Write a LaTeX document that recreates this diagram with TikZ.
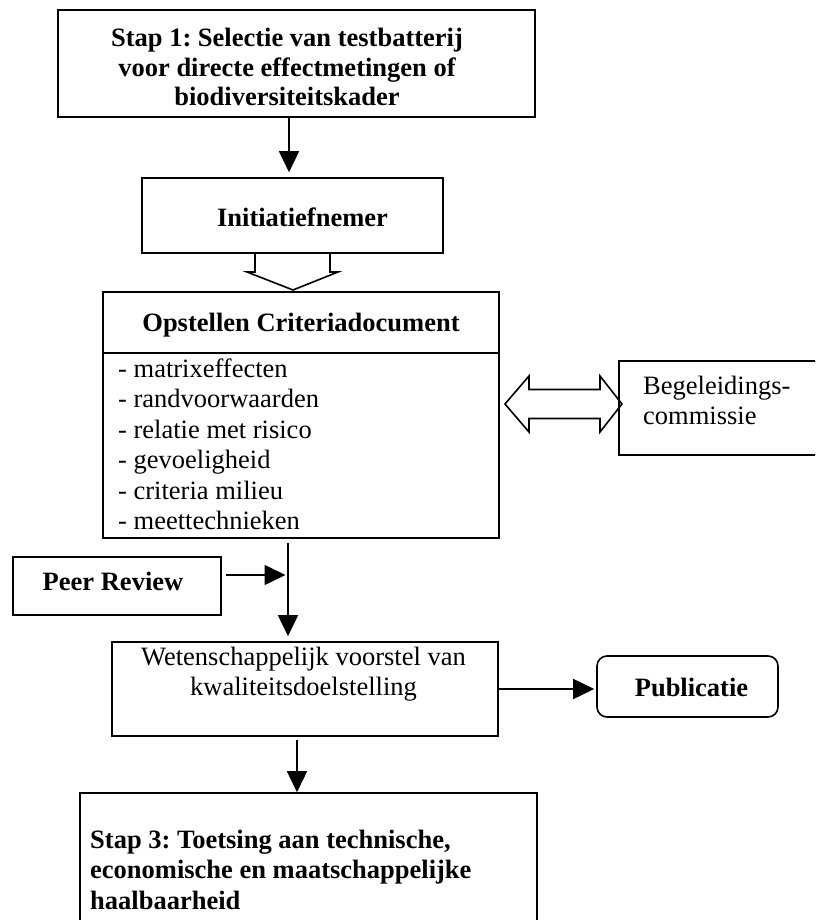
\documentclass[tikz,border=0pt]{standalone}
\usepackage{fontspec}
\setmainfont{Liberation Serif}
\usetikzlibrary{arrows.meta}
\frenchspacing
\begin{document}
\begin{tikzpicture}[x=1pt,y=-1pt,
  box/.style={draw,line width=1.6pt,inner sep=0pt},
  lbl/.style={inner sep=0pt,font=\fontsize{26.5}{30}\selectfont},
  blbl/.style={inner sep=0pt,font=\fontsize{26.5}{29.5}\selectfont\bfseries},
  conn/.style={line width=1.6pt,-{Triangle[length=21pt,width=20pt]}},
  hollow/.style={draw,line width=1.6pt,fill=white,line join=miter}]
\clip (0,0) rectangle (815,920);
\fill[white] (0,0) rectangle (815,920);

% hollow block arrows
\draw[hollow] (255,253.8) -- (255,272) -- (247,272) -- (293,290) -- (338,272) -- (330,272) -- (330,253.8);
\draw[hollow] (505,404) -- (529,376) -- (529,389.5) -- (600,389.5) -- (600,376) -- (622,404)
  -- (600,432) -- (600,418.5) -- (529,418.5) -- (529,432) -- cycle;

% boxes
\node[box,minimum width=477pt,minimum height=107pt] (s1) at (296.5,63.5) {};
\node[box,minimum width=301pt,minimum height=75pt] (init) at (292.5,215.5) {};
\node[box,minimum width=396pt,minimum height=246pt] (crit) at (301,415) {};
\node[box,minimum width=211pt,minimum height=94pt] (beg) at (724.5,408) {};
\node[box,minimum width=208pt,minimum height=58pt] (peer) at (117,586) {};
\node[box,minimum width=386pt,minimum height=94pt] (wet) at (305,689) {};
\node[box,rounded corners=10pt,minimum width=181pt,minimum height=61pt] (pub) at (687.5,686.5) {};
\node[box,minimum width=457pt,minimum height=167pt] (s3) at (308.5,876.5) {};

% header rule of the criteria box
\coordinate (dv) at (0,353);
\draw[line width=1.6pt] (crit.west |- dv) -- (crit.east |- dv);

% texts (multi-line nodes are anchored on the baseline of their last line)
\node[blbl,align=center,anchor=base] (t1) at (287,106)
  {Stap 1: Selectie van testbatterij\\voor directe effectmetingen of\\biodiversiteitskader};
\node[blbl,anchor=base] (tinit) at (302.5,226) {Initiatiefnemer};
\node[blbl,anchor=base] (tcrit) at (301,331) {Opstellen Criteriadocument};
\node[lbl,align=left,anchor=base west,font=\fontsize{26.5}{30.5}\selectfont] (tlist) at (118,529.5)
  {- matrixeffecten\\- randvoorwaarden\\- relatie met risico\\- gevoeligheid\\- criteria milieu\\- meettechnieken};
\node[lbl,align=left,anchor=base west] (tbeg) at (643,424) {Begeleidings-\\commissie};
\node[blbl,anchor=base] (tpeer) at (113,590) {Peer Review};
\node[lbl,align=center,anchor=base] (twet) at (303.5,695)
  {Wetenschappelijk voorstel van\\kwaliteitsdoelstelling};
\node[blbl,anchor=base] (tpub) at (691.5,696) {Publicatie};
\node[blbl,align=left,anchor=base west,font=\fontsize{26.5}{30.5}\selectfont\bfseries] (ts3) at (90,909)
  {Stap 3: Toetsing aan technische,\\economische en maatschappelijke\\haalbaarheid};

% connectors
\coordinate (a1) at (289,0);
\coordinate (a2) at (288,0);
\coordinate (a3) at (297,0);
\coordinate (pr) at (288,575);
\draw[conn,shorten >=5pt] (s1.south -| a1) -- (init.north -| a1);
\draw[conn,shorten <=4pt,shorten >=5pt] (crit.south -| a2) -- (wet.north -| a2);
\draw[conn,shorten <=4pt,shorten >=2.5pt] (peer.east |- pr) -- (pr);
\draw[conn,shorten >=2pt] (wet.east) -- (pub.west |- wet.east);
\draw[conn,shorten <=3pt] (wet.south -| a3) -- (s3.north -| a3);
\end{tikzpicture}
\end{document}
